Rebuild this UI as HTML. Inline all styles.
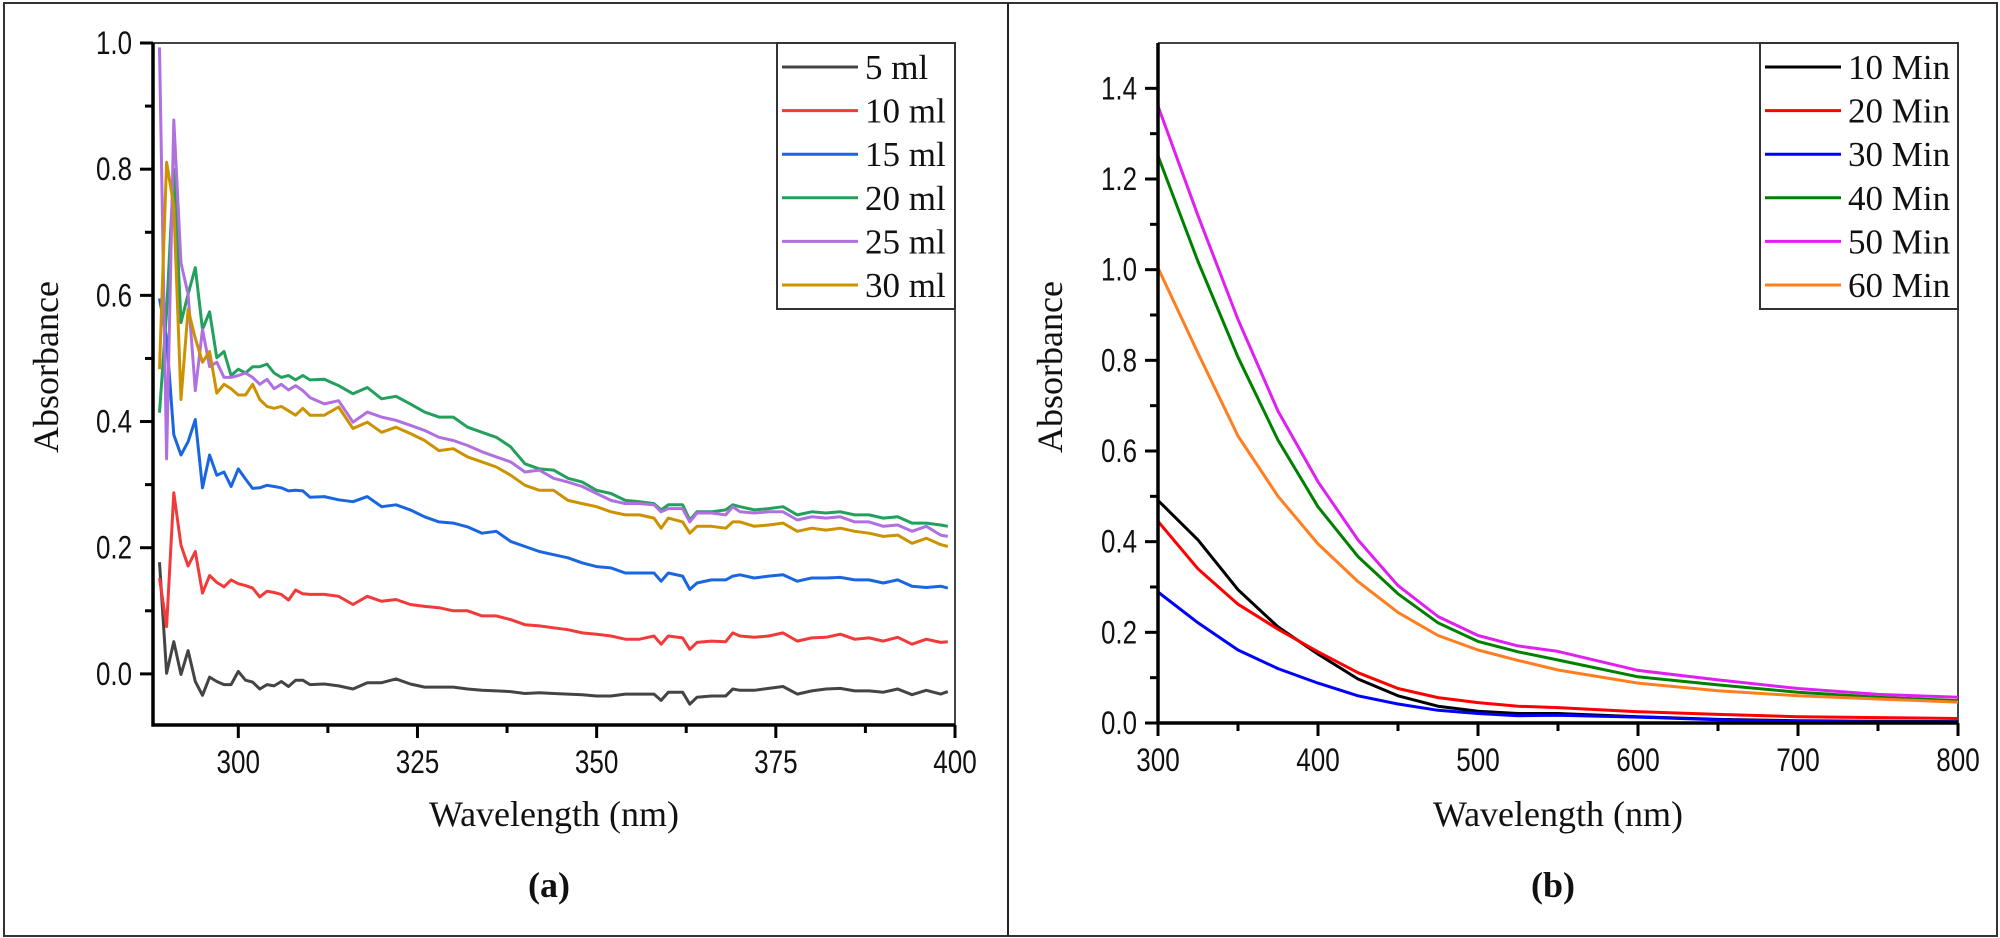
<!DOCTYPE html>
<html><head><meta charset="utf-8">
<style>
html,body{margin:0;padding:0;background:#fff;}
svg{display:block;}
.tick{font-family:"Liberation Sans Narrow","Liberation Sans",sans-serif;font-size:32px;fill:#111;}
.ttl{font-family:"Liberation Serif",serif;font-size:36px;fill:#111;}
.leg{font-family:"Liberation Serif",serif;font-size:35px;fill:#111;}
</style></head>
<body>
<svg id="fig" width="2000" height="938" viewBox="0 0 2000 938" xmlns="http://www.w3.org/2000/svg">
<rect x="4" y="3" width="1993" height="933" fill="none" stroke="#333" stroke-width="2"/>
<line x1="1008" y1="3" x2="1008" y2="936" stroke="#222" stroke-width="2"/>
<g id="pa"></g>
<g id="pb"></g>
</svg>
<script>
// ---------- Panel (a) data ----------
const wlA = [289,290,291,292,293,294,295,296,297,298,299,300,301,302,303,304,305,306,307,308,309,310,
312,314,316,318,320,322,324,326,328,330,332,334,336,338,340,342,344,346,348,350,352,354,
356,358,359,360,362,363,364,366,368,369,370,372,374,376,378,380,382,384,386,388,390,392,394,396,398,399];
const labelsA = ["5 ml","10 ml","15 ml","20 ml","25 ml","30 ml"];
const a5 = [0.177,0.001,0.051,-0.001,0.037,-0.012,-0.034,-0.005,-0.012,-0.017,-0.017,0.004,-0.010,-0.013,-0.024,-0.017,-0.019,-0.012,-0.020,-0.010,-0.010,-0.017,
-0.016,-0.019,-0.024,-0.014,-0.014,-0.008,-0.016,-0.021,-0.021,-0.021,-0.024,-0.026,-0.027,-0.028,-0.031,-0.030,-0.031,-0.032,-0.033,-0.035,-0.035,-0.032,
-0.032,-0.032,-0.042,-0.029,-0.029,-0.048,-0.037,-0.035,-0.035,-0.024,-0.026,-0.026,-0.023,-0.020,-0.032,-0.027,-0.024,-0.023,-0.027,-0.027,-0.029,-0.024,-0.033,-0.026,-0.032,-0.028];
const a10 = [0.152,0.075,0.287,0.204,0.171,0.194,0.128,0.156,0.145,0.138,0.149,0.143,0.140,0.136,0.122,0.131,0.129,0.126,0.117,0.133,0.127,0.126,
0.126,0.123,0.110,0.123,0.115,0.118,0.110,0.107,0.105,0.100,0.100,0.092,0.092,0.086,0.078,0.076,0.073,0.070,0.065,0.063,0.060,0.055,
0.055,0.060,0.047,0.060,0.057,0.039,0.050,0.052,0.051,0.065,0.060,0.058,0.060,0.065,0.052,0.057,0.058,0.063,0.055,0.057,0.052,0.058,0.047,0.055,0.050,0.051];
const a15 = [0.595,0.532,0.379,0.347,0.368,0.403,0.295,0.347,0.315,0.320,0.297,0.325,0.309,0.294,0.295,0.299,0.297,0.295,0.290,0.291,0.290,0.280,
0.281,0.276,0.273,0.281,0.265,0.268,0.260,0.249,0.241,0.239,0.233,0.223,0.226,0.210,0.202,0.194,0.189,0.184,0.176,0.170,0.168,0.160,
0.160,0.160,0.147,0.160,0.155,0.134,0.144,0.149,0.149,0.155,0.157,0.152,0.155,0.157,0.147,0.152,0.152,0.153,0.149,0.149,0.144,0.149,0.139,0.137,0.139,0.136];
const a20 = [0.414,0.574,0.800,0.557,0.602,0.644,0.546,0.574,0.501,0.511,0.473,0.483,0.477,0.487,0.487,0.491,0.477,0.470,0.473,0.466,0.473,0.466,
0.467,0.457,0.444,0.454,0.436,0.440,0.428,0.415,0.407,0.407,0.391,0.383,0.375,0.360,0.333,0.325,0.323,0.310,0.304,0.291,0.286,0.275,
0.273,0.270,0.260,0.268,0.268,0.244,0.257,0.257,0.260,0.268,0.265,0.260,0.262,0.265,0.252,0.257,0.255,0.257,0.252,0.252,0.247,0.249,0.239,0.239,0.236,0.234];
const a25 = [0.993,0.341,0.878,0.651,0.602,0.449,0.546,0.487,0.494,0.470,0.470,0.473,0.477,0.470,0.459,0.467,0.452,0.459,0.450,0.457,0.449,0.438,
0.428,0.433,0.399,0.415,0.407,0.402,0.394,0.386,0.375,0.370,0.362,0.352,0.344,0.336,0.320,0.323,0.310,0.304,0.297,0.286,0.275,0.270,
0.270,0.268,0.257,0.262,0.262,0.241,0.255,0.255,0.252,0.265,0.257,0.255,0.257,0.257,0.244,0.249,0.247,0.249,0.241,0.241,0.234,0.236,0.226,0.234,0.220,0.218];
const a30 = [0.483,0.811,0.742,0.435,0.578,0.532,0.494,0.511,0.445,0.459,0.452,0.442,0.442,0.459,0.435,0.424,0.421,0.424,0.417,0.410,0.421,0.410,
0.410,0.423,0.389,0.399,0.383,0.391,0.381,0.370,0.354,0.357,0.344,0.336,0.328,0.315,0.299,0.291,0.291,0.275,0.270,0.265,0.257,0.252,
0.252,0.247,0.231,0.247,0.241,0.223,0.234,0.234,0.231,0.241,0.241,0.234,0.236,0.239,0.226,0.231,0.228,0.231,0.226,0.223,0.218,0.220,0.207,0.215,0.205,0.202];
const xTicksA = [300,325,350,375,400];
const yTicksA = [0.0,0.2,0.4,0.6,0.8,1.0];

// ---------- Panel (b) data ----------
const wlB = [300,325,350,375,400,425,450,475,500,525,550,600,650,700,750,800];
const labelsB = ["10 Min","20 Min","30 Min","40 Min","50 Min","60 Min"];
const b10 = [0.491,0.404,0.294,0.212,0.152,0.097,0.060,0.037,0.026,0.021,0.021,0.014,0.008,0.005,0.004,0.003];
const b20 = [0.445,0.340,0.262,0.207,0.157,0.111,0.076,0.056,0.045,0.037,0.034,0.025,0.019,0.014,0.012,0.010];
const b30 = [0.289,0.221,0.161,0.120,0.088,0.060,0.042,0.028,0.021,0.016,0.017,0.013,0.007,0.004,0.002,0.002];
const b40 = [1.251,1.018,0.807,0.624,0.477,0.367,0.285,0.221,0.180,0.157,0.139,0.102,0.084,0.068,0.057,0.049];
const b50 = [1.361,1.119,0.890,0.688,0.532,0.404,0.303,0.235,0.193,0.170,0.158,0.116,0.095,0.076,0.063,0.057];
const b60 = [1.004,0.816,0.633,0.500,0.395,0.312,0.244,0.193,0.161,0.138,0.117,0.088,0.071,0.060,0.053,0.046];
const xTicksB = [300,400,500,600,700,800];
const yTicksB = [0.0,0.2,0.4,0.6,0.8,1.0,1.2,1.4];

const NS = "http://www.w3.org/2000/svg";
function mk(parent, tag, attrs, text){
  const e = document.createElementNS(NS, tag);
  for (const k in attrs) e.setAttribute(k, attrs[k]);
  if (text !== undefined) e.textContent = text;
  parent.appendChild(e);
  return e;
}
function tlen(s){ let w=0; for (const ch of s) w += (ch==='.') ? 7 : 14.5; return w; }

function drawPanel(g, cfg){
  const {L,R,T,B,xmin,xmax,ymin,ymax} = cfg;
  const sx = v => L + (v - xmin) / (xmax - xmin) * (R - L);
  const sy = v => B - (v - ymin) / (ymax - ymin) * (B - T);
  const fr = mk(g,"path",{d:`M${L},${T} H${R} V${B}`,fill:"none",stroke:"#444","stroke-width":2});
  
  
  cfg.series.forEach((s,i)=>{
    let d = "";
    cfg.xs.forEach((x,j)=>{ d += (j?"L":"M") + sx(x).toFixed(1) + "," + sy(s.v[j]).toFixed(1); });
    const p = mk(g,"path",{d:d,fill:"none",stroke:s.c,"stroke-width":3,"stroke-linejoin":"round"});
    
    
  });
  const ax = mk(g,"path",{d:`M${L},${T} V${B} H${R}`,fill:"none",stroke:"#000","stroke-width":3.5});
  
  
  cfg.xTicks.forEach((t,i)=>{
    const x = sx(t);
    mk(g,"line",{x1:x,y1:B,x2:x,y2:B+13,stroke:"#000","stroke-width":3});
    const s = String(t);
    const tl = mk(g,"text",{x:x,y:B+48,"text-anchor":"middle",class:"tick",textLength:tlen(s),lengthAdjust:"spacingAndGlyphs"},s);
    
    
    if (i < cfg.xTicks.length-1){
      const xm = sx((t + cfg.xTicks[i+1]) / 2);
      mk(g,"line",{x1:xm,y1:B,x2:xm,y2:B+8,stroke:"#000","stroke-width":3});
    }
  });
  cfg.yTicks.forEach((t,i)=>{
    const y = sy(t);
    mk(g,"line",{x1:L-13,y1:y,x2:L,y2:y,stroke:"#000","stroke-width":3});
    const s = t.toFixed(1);
    const tl = mk(g,"text",{x:L-21,y:y+11,"text-anchor":"end",class:"tick",textLength:tlen(s),lengthAdjust:"spacingAndGlyphs"},s);
    
    
    const ym = sy(t + 0.1);
    if (ym > T) mk(g,"line",{x1:L-8,y1:ym,x2:L,y2:ym,stroke:"#000","stroke-width":3});
  });
  const yt = mk(g,"text",{x:0,y:0,"text-anchor":"middle",class:"ttl",transform:`translate(${cfg.ytX},367) rotate(-90)`},"Absorbance");
  
  
  const xt = mk(g,"text",{x:cfg.xtX,y:826,"text-anchor":"middle",class:"ttl"},"Wavelength (nm)");
  
  
  const pl = mk(g,"text",{x:cfg.xtX-5,y:897,"text-anchor":"middle",class:"ttl","font-weight":"bold","font-size":"42"},cfg.tag);
  
  
  const lg = mk(g,"g",{});
  
  
  mk(lg,"rect",{x:cfg.legX,y:T,width:R-cfg.legX,height:309-T,fill:"#fff",stroke:"#333","stroke-width":2});
  cfg.series.forEach((s,i)=>{
    const y = 67 + i*43.6;
    const e = mk(lg,"g",{});
    
    
    mk(e,"line",{x1:cfg.legX+5,y1:y,x2:cfg.legX+81,y2:y,stroke:s.c,"stroke-width":3});
    mk(e,"text",{x:cfg.legX+88,y:y+12,class:"leg"},s.n);
  });
}

drawPanel(document.getElementById("pa"),{
  L:153,R:955,T:43,B:725,xmin:288.1,xmax:400,ymin:-0.081,ymax:1.0,
  xs:wlA,xTicks:xTicksA,yTicks:yTicksA,ytX:58,xtX:554,tag:"(a)",legX:777,
  series:[{n:labelsA[0],c:"#444444",v:a5},{n:labelsA[1],c:"#f23a3a",v:a10},{n:labelsA[2],c:"#1a66e0",v:a15},
          {n:labelsA[3],c:"#22a05c",v:a20},{n:labelsA[4],c:"#b070e0",v:a25},{n:labelsA[5],c:"#cc9200",v:a30}]
});
drawPanel(document.getElementById("pb"),{
  L:1158,R:1958,T:43,B:723,xmin:300,xmax:800,ymin:0,ymax:1.5,
  xs:wlB,xTicks:xTicksB,yTicks:yTicksB,ytX:1062,xtX:1558,tag:"(b)",legX:1760,
  series:[{n:labelsB[0],c:"#000000",v:b10},{n:labelsB[1],c:"#ff0000",v:b20},{n:labelsB[2],c:"#0000ff",v:b30},
          {n:labelsB[3],c:"#008000",v:b40},{n:labelsB[4],c:"#e020f0",v:b50},{n:labelsB[5],c:"#ff7f20",v:b60}]
});
</script>
</body></html>
